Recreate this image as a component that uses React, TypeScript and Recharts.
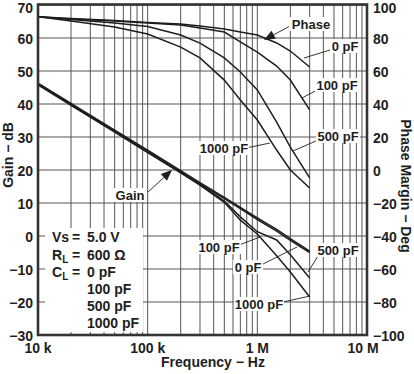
import React from 'react';
import { ComposedChart, Line, XAxis, YAxis, CartesianGrid } from 'recharts';

// ---------- data ----------
const freqs = [1e4, 2e4, 5e4, 1e5, 2e5, 3e5, 5e5, 7e5, 1e6, 1.5e6, 2e6, 3e6];
const gain0pF = [46.3, 40.2, 32.1, 26.0, 19.8, 16.2, 11.7, 8.7, 5.5, 2.0, -0.8, -4.6];
const gain100pF = [46.0, 39.9, 31.8, 25.6, 19.4, 15.8, 11.3, 8.3, 5.0, 1.5, -1.3, -5.0];
const gain500pF = [46.0, 39.8, 31.7, 25.5, 19.3, 15.6, 10.6, 5.8, 1.3, -1.2, -5.7, -12.7];
const gain1000pF = [45.8, 39.6, 31.5, 25.3, 19.1, 15.4, 10.2, 4.8, 0.6, -6.0, -10.9, -18.5];
const phase0pF = [92.9, 91.8, 90.6, 89.4, 88.5, 87.3, 85.5, 83.6, 81.8, 77.0, 72.1, 62.4];
const phase100pF = [92.9, 91.5, 90.3, 89.1, 87.9, 86.1, 83.6, 77.6, 71.5, 63.0, 54.5, 36.4];
const phase500pF = [92.9, 91.2, 89.1, 87.0, 81.8, 76.9, 67.9, 59.4, 48.5, 29.0, 13.9, -4.8];
const phase1000pF = [92.9, 90.3, 86.7, 82.4, 74.5, 67.9, 54.5, 42.4, 30.3, 12.1, 0.0, -10.9];

const decadeTicks = [1e4, 1e5, 1e6, 1e7];
const decadeLabels = ['10 k', '100 k', '1 M', '10 M'];
const minorMultipliers = [1, 2, 3, 4, 5, 6, 7, 8, 9];
const gainTicks = [-30, -20, -10, 0, 10, 20, 30, 40, 50, 60, 70];
const phaseTicks = [-100, -80, -60, -40, -20, 0, 20, 40, 60, 80, 100];

const freqGridTicks: number[] = [];
decadeTicks.slice(0, 3).forEach((d) => minorMultipliers.forEach((m) => freqGridTicks.push(d * m)));
freqGridTicks.push(1e7);

const rows = freqs.map((f, i) => ({
  f,
  g0: gain0pF[i],
  g100: gain100pF[i],
  g500: gain500pF[i],
  g1000: gain1000pF[i],
  p0: phase0pF[i],
  p100: phase100pF[i],
  p500: phase500pF[i],
  p1000: phase1000pF[i],
}));

const FONT = '"Liberation Sans", Arial, Helvetica, sans-serif';
const INK = '#1e1e1e';

const fmtNum = (v: number) => (v < 0 ? '\u2212' + Math.abs(v) : String(v));

const FreqTick = (props: any) => {
  const { x, y, payload } = props;
  const i = decadeTicks.findIndex((d) => Math.abs(d - payload.value) / d < 1e-6);
  if (i < 0) return <g />;
  const dx = i === 3 ? -4 : 0;
  return (
    <text x={x + dx} y={y} dy="0.71em" textAnchor="middle" fontFamily={FONT} fontWeight="bold" fontSize={14} fill={INK}>
      {decadeLabels[i]}
    </text>
  );
};

const makeValueTick = (anchor: 'start' | 'end', topValue: number) => (props: any) => {
  const { x, y, payload } = props;
  const shift = payload.value === topValue ? 3 : 1;
  return (
    <text x={x} y={y + shift} dy="0.355em" textAnchor={anchor} fontFamily={FONT} fontWeight="bold" fontSize={14} fill={INK}>
      {fmtNum(payload.value)}
    </text>
  );
};
const GainTick = makeValueTick('end', 70);
const PhaseTick = makeValueTick('start', 100);

const Lbl = ({ cx, cy, text, w }: { cx: number; cy: number; text: string; w: number }) => (
  <g>
    <rect x={cx - w / 2 - 2} y={cy - 7} width={w + 4} height={14} fill="#fff" />
    <text x={cx} y={cy} textAnchor="middle" dominantBaseline="central" fontFamily={FONT} fontWeight="bold" fontSize={13} fill={INK}>
      {text}
    </text>
  </g>
);

const Leader = ({ x1, y1, x2, y2 }: { x1: number; y1: number; x2: number; y2: number }) => (
  <line x1={x1} y1={y1} x2={x2} y2={y2} stroke={INK} strokeWidth={0.9} />
);

const Arrow = ({ x1, y1, x2, y2 }: { x1: number; y1: number; x2: number; y2: number }) => {
  const dx = x2 - x1;
  const dy = y2 - y1;
  const len = Math.sqrt(dx * dx + dy * dy);
  const ux = dx / len;
  const uy = dy / len;
  const bx = x2 - ux * 11;
  const by = y2 - uy * 11;
  const px = -uy * 4.5;
  const py = ux * 4.5;
  return (
    <g>
      <line x1={x1} y1={y1} x2={bx} y2={by} stroke={INK} strokeWidth={0.9} />
      <polygon points={`${x2},${y2} ${bx + px},${by + py} ${bx - px},${by - py}`} fill={INK} />
    </g>
  );
};

export default function App() {
  const lineProps = { type: 'linear' as const, dot: false, stroke: INK, strokeWidth: 1.5, isAnimationActive: false };
  return (
    <div style={{ position: 'absolute', left: 0, top: 0, width: 414, height: 374, background: '#fff' }}>
      <ComposedChart width={414} height={374} data={rows} margin={{ top: 5, right: 0, bottom: 0, left: 0 }}>
        <CartesianGrid yAxisId="left" stroke="#555" strokeWidth={1} />
        <XAxis
          dataKey="f"
          type="number"
          scale="log"
          domain={[1e4, 1e7]}
          ticks={freqGridTicks}
          interval={0}
          allowDataOverflow
          height={39}
          tickSize={0}
          tickMargin={8}
          tickLine={false}
          axisLine={false}
          tick={<FreqTick />}
        />
        <YAxis
          yAxisId="left"
          domain={[-30, 70]}
          ticks={gainTicks}
          interval={0}
          width={38}
          tickSize={0}
          tickMargin={5}
          tickLine={false}
          axisLine={false}
          tick={<GainTick />}
        />
        <YAxis
          yAxisId="right"
          orientation="right"
          domain={[-100, 100]}
          ticks={phaseTicks}
          interval={0}
          width={47}
          tickSize={0}
          tickMargin={6}
          tickLine={false}
          axisLine={false}
          tick={<PhaseTick />}
        />
        <Line yAxisId="left" dataKey="g0" {...lineProps} />
        <Line yAxisId="left" dataKey="g100" {...lineProps} />
        <Line yAxisId="left" dataKey="g500" {...lineProps} />
        <Line yAxisId="left" dataKey="g1000" {...lineProps} />
        <Line yAxisId="right" dataKey="p0" {...lineProps} />
        <Line yAxisId="right" dataKey="p100" {...lineProps} />
        <Line yAxisId="right" dataKey="p500" {...lineProps} />
        <Line yAxisId="right" dataKey="p1000" {...lineProps} />
      </ComposedChart>
      <svg width={414} height={374} style={{ position: 'absolute', left: 0, top: 0, pointerEvents: 'none' }}>
        {/* info box */}
        <rect x={45} y={228} width={98} height={104} fill="#fff" />
        <g fontFamily={FONT} fontWeight="bold" fontSize={14} fill={INK}>
          <text x={52} y={237} dominantBaseline="central">Vs</text>
          <text x={72} y={237} dominantBaseline="central">=</text>
          <text x={87} y={237} dominantBaseline="central">5.0 V</text>
          <text x={52} y={255} dominantBaseline="central">R<tspan fontSize={10} dy={4}>L</tspan></text>
          <text x={72} y={255} dominantBaseline="central">=</text>
          <text x={87} y={255} dominantBaseline="central">600 Ω</text>
          <text x={52} y={272} dominantBaseline="central">C<tspan fontSize={10} dy={4}>L</tspan></text>
          <text x={72} y={272} dominantBaseline="central">=</text>
          <text x={87} y={272} dominantBaseline="central">0 pF</text>
          <text x={87} y={289} dominantBaseline="central">100 pF</text>
          <text x={87} y={306} dominantBaseline="central">500 pF</text>
          <text x={87} y={323} dominantBaseline="central">1000 pF</text>
        </g>

        {/* phase annotations */}
        <Arrow x1={290} y1={26} x2={264} y2={40} />
        <Lbl cx={311} cy={24} text="Phase" w={40} />
        <Leader x1={330} y1={50} x2={304} y2={58} />
        <Lbl cx={345} cy={46} text="0 pF" w={26} />
        <Leader x1={317} y1={90} x2={302} y2={98} />
        <Lbl cx={337} cy={85} text="100 pF" w={40} />
        <Leader x1={318} y1={140} x2={293} y2={151} />
        <Lbl cx={338} cy={136} text="500 pF" w={40} />
        <Leader x1={246} y1={148} x2={270} y2={143} />
        <Lbl cx={224} cy={148} text="1000 pF" w={46} />

        {/* gain annotations */}
        <Arrow x1={148} y1={192} x2={172} y2={170} />
        <Lbl cx={130} cy={195} text="Gain" w={30} />
        <Leader x1={239} y1={245} x2={260} y2={237} />
        <Lbl cx={219} cy={247} text="100 pF" w={40} />
        <Leader x1={263} y1={264} x2={297} y2={247} />
        <Lbl cx={248} cy={267} text="0 pF" w={26} />
        <Leader x1={318} y1={256} x2={308} y2={272} />
        <Lbl cx={338} cy={250} text="500 pF" w={40} />
        <Leader x1={283} y1={302} x2={310} y2={296} />
        <Lbl cx={259} cy={304} text="1000 pF" w={46} />

        {/* frame */}
        <rect x={38} y={4.5} width={329} height={330.5} fill="none" stroke="#333" strokeWidth={2.6} />

        {/* axis titles */}
        <text x={8} y={155} transform="rotate(-90 8 155)" textAnchor="middle" dominantBaseline="central" fontFamily={FONT} fontWeight="bold" fontSize={14} fill={INK}>
          Gain − dB
        </text>
        <text x={406} y={186} transform="rotate(90 406 186)" textAnchor="middle" dominantBaseline="central" fontFamily={FONT} fontWeight="bold" fontSize={14} fill={INK}>
          Phase Margin − Deg
        </text>
        <text x={213} y={362} textAnchor="middle" dominantBaseline="central" fontFamily={FONT} fontWeight="bold" fontSize={14} fill={INK}>
          Frequency − Hz
        </text>
      </svg>
    </div>
  );
}
